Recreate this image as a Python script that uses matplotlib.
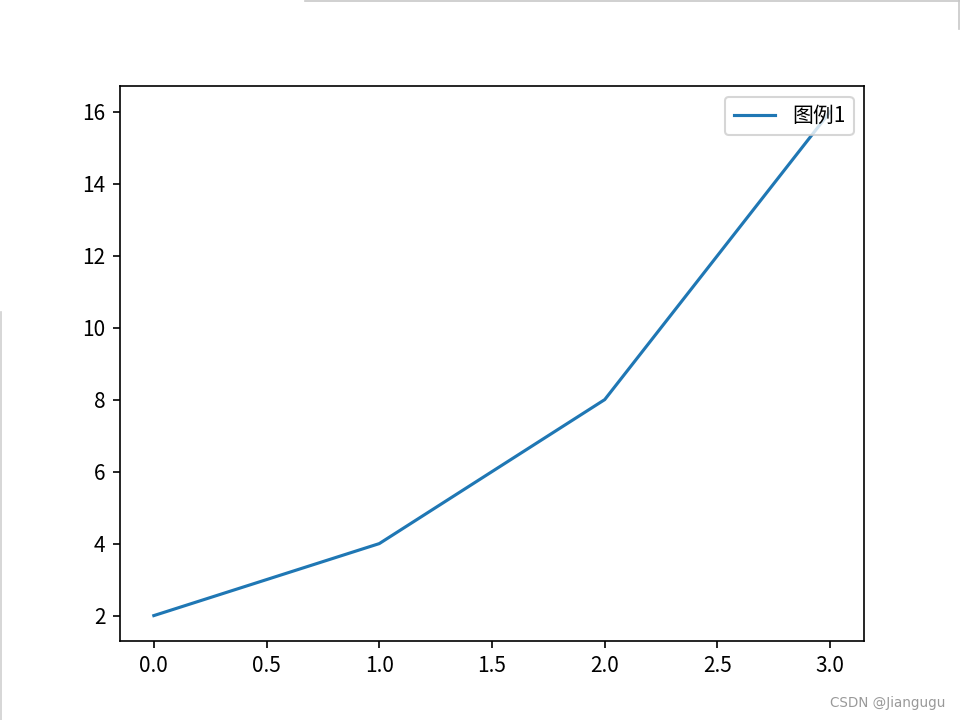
import matplotlib.pyplot as plt
from matplotlib.lines import Line2D

plt.rcParams['font.family'] = ['Noto Sans CJK SC', 'DejaVu Sans']
plt.rcParams['axes.unicode_minus'] = False

x = [0, 1, 2, 3]
y = [2, 4, 8, 16]
legend_label = '图例1'
watermark = 'CSDN @Jiangugu'

fig = plt.figure(figsize=(6.4, 4.8), dpi=150)
ax = fig.add_subplot(111)
ax.plot(x, y, label=legend_label)
ax.legend(loc='upper right')

# screenshot border remnants and watermark
fig.add_artist(Line2D([0.318, 1.0], [0.999, 0.999], color='#c8c8c8', lw=0.8))
fig.add_artist(Line2D([0.999, 0.999], [0.96, 1.0], color='#c8c8c8', lw=0.8))
fig.add_artist(Line2D([0.001, 0.001], [0.0, 0.567], color='#d0d0d0', lw=0.8))
fig.text(0.985, 0.023, watermark, ha='right', va='center', fontsize=6.5,
         color='#999999', family=['DejaVu Sans'])

plt.savefig('out.png')
plt.close()
